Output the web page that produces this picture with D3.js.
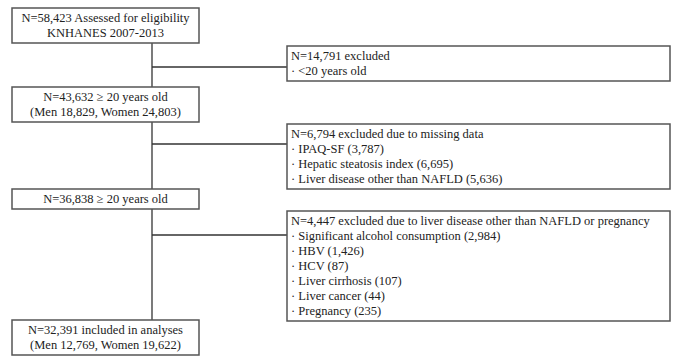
<!DOCTYPE html>
<html>
<head>
<meta charset="utf-8">
<script src="https://cdn.jsdelivr.net/npm/d3@7"></script>
<style>
  body { margin: 0; background: #fff; }
  svg text { font-family: "Liberation Serif", "Times New Roman", serif; font-size: 12.5px; fill: #222; }
</style>
</head>
<body>
<svg id="chart" width="674" height="356"></svg>
<script>
// flow steps (left column)
var steps = [
  ["N=58,423 Assessed for eligibility", "KNHANES 2007-2013"],
  ["N=43,632 \u2265 20 years old", "(Men 18,829, Women 24,803)"],
  ["N=36,838 \u2265 20 years old"],
  ["N=32,391 included in analyses", "(Men 12,769, Women 19,622)"]
];

// exclusions (right column)
var exclusions = [
  ["N=14,791 excluded", "\u00b7 <20 years old"],
  ["N=6,794 excluded due to missing data", "\u00b7 IPAQ-SF (3,787)", "\u00b7 Hepatic steatosis index (6,695)", "\u00b7 Liver disease other than NAFLD (5,636)"],
  ["N=4,447 excluded due to liver disease other than NAFLD or pregnancy", "\u00b7 Significant alcohol consumption (2,984)", "\u00b7 HBV (1,426)", "\u00b7 HCV (87)", "\u00b7 Liver cirrhosis (107)", "\u00b7 Liver cancer (44)", "\u00b7 Pregnancy (235)"]
];

// layout
var stepTop = [8, 87, 189, 320];
var exclTop = [46, 124, 211];
var branchY = [67, 144, 235];
var lineH = 15;
var pad = 5;

var svg = d3.select("#chart");

var x = d3.scaleLinear().domain([0, 1]).range([12, 199]);   // left boxes
var xr = d3.scaleLinear().domain([0, 1]).range([287, 670]); // right boxes
var trunkX = 152;

// trunk
svg.append("line")
  .attr("x1", trunkX).attr("x2", trunkX)
  .attr("y1", stepTop[0]).attr("y2", stepTop[3])
  .attr("stroke", "#333").attr("stroke-width", 1.3);

// branches
svg.selectAll("line.branch")
  .data(branchY)
  .enter()
  .append("line")
  .attr("class", "branch")
  .attr("x1", trunkX).attr("x2", xr(0))
  .attr("y1", function(d){ return d; })
  .attr("y2", function(d){ return d; })
  .attr("stroke", "#333").attr("stroke-width", 1.3);

// left boxes
var sg = svg.selectAll("g.step")
  .data(steps)
  .enter()
  .append("g")
  .attr("class", "step")
  .attr("transform", function(d, i){ return "translate(0," + stepTop[i] + ")"; });

sg.append("rect")
  .attr("x", x(0)).attr("y", 0)
  .attr("width", x(1) - x(0))
  .attr("height", function(d){ return d.length * lineH + pad; })
  .attr("fill", "#fff")
  .attr("stroke", "#555").attr("stroke-width", 1.5);

sg.selectAll("text")
  .data(function(d){ return d; })
  .enter()
  .append("text")
  .attr("x", (x(0) + x(1)) / 2)
  .attr("y", function(d, j){ return pad / 2 + lineH * (j + 0.5); })
  .attr("dy", "0.35em")
  .attr("text-anchor", "middle")
  .text(function(d){ return d; });

// right boxes
var eg = svg.selectAll("g.excl")
  .data(exclusions)
  .enter()
  .append("g")
  .attr("class", "excl")
  .attr("transform", function(d, i){ return "translate(0," + exclTop[i] + ")"; });

eg.append("rect")
  .attr("x", xr(0)).attr("y", 0)
  .attr("width", xr(1) - xr(0))
  .attr("height", function(d){ return d.length * lineH + pad; })
  .attr("fill", "#fff")
  .attr("stroke", "#555").attr("stroke-width", 1.5);

eg.selectAll("text")
  .data(function(d){ return d; })
  .enter()
  .append("text")
  .attr("x", xr(0) + 4)
  .attr("y", function(d, j){ return pad / 2 + lineH * (j + 0.5); })
  .attr("dy", "0.35em")
  .text(function(d){ return d; });
</script>
</body>
</html>
